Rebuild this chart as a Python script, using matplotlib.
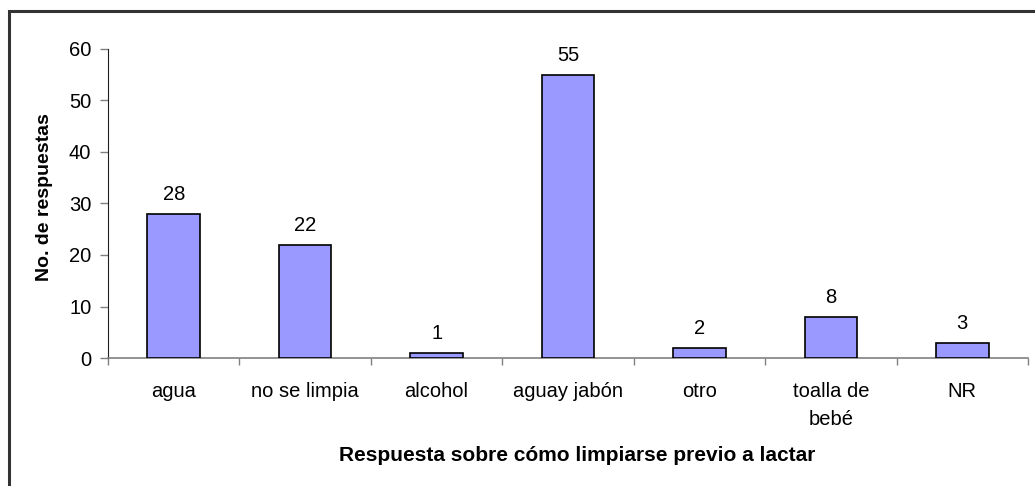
import matplotlib
matplotlib.use("Agg")
import matplotlib.pyplot as plt
from matplotlib.patches import Rectangle

# data
categories = ["agua", "no se limpia", "alcohol", "aguay jabón", "otro", "toalla de\nbebé", "NR"]
values = [28, 22, 1, 55, 2, 8, 3]
y_ticks = [0, 10, 20, 30, 40, 50, 60]

plt.rcParams['font.family'] = ['Liberation Sans', 'DejaVu Sans']

fig = plt.figure(figsize=(10.35, 4.86), dpi=100)
ax = fig.add_axes([108 / 1035, 1 - 358 / 486, 920 / 1035, 309 / 486])

# outer chart border (right/bottom fall outside the crop)
fig.patches.append(Rectangle((8.5 / 1035, -0.05), 1.1, 1 - 11.5 / 486 + 0.05,
                             transform=fig.transFigure, fill=False,
                             edgecolor='#333333', linewidth=2.2, clip_on=False))

x = list(range(len(categories)))
ax.bar(x, values, width=0.4, color='#9999FF', edgecolor='black', linewidth=1.2, zorder=3)

for xi, v in zip(x, values):
    ax.annotate(str(v), (xi, v), xytext=(0, 7), textcoords='offset points',
                ha='center', va='bottom', fontsize=14.5)

ax.set_xlim(-0.5, len(categories) - 0.5)
ax.set_ylim(0, 60)
ax.set_yticks(y_ticks)

ax.set_xticks([i - 0.5 for i in range(len(categories) + 1)])
ax.set_xticklabels([])
ax.set_xticks(x, minor=True)
ax.set_xticklabels(categories, minor=True, fontsize=14.5, linespacing=1.6)
ax.tick_params(axis='x', which='minor', length=0, pad=17)
ax.tick_params(axis='x', which='major', length=5, width=1, color='#808080', direction='out')
ax.tick_params(axis='y', labelsize=14.5, length=6, width=1, color='#808080', pad=6)

for s in ['top', 'right']:
    ax.spines[s].set_visible(False)
ax.spines['left'].set_color('#202020')
ax.spines['bottom'].set_color('#808080')
ax.spines['bottom'].set_linewidth(1.2)

fig.text(45 / 1035, 1 - 197 / 486, "No. de respuestas", rotation=90,
         ha='center', va='center', fontsize=14, fontweight='bold')
fig.text(577 / 1035, 1 - 461 / 486, "Respuesta sobre cómo limpiarse previo a lactar",
         ha='center', va='baseline', fontsize=15, fontweight='bold')

fig.savefig("out.png", dpi=100)
